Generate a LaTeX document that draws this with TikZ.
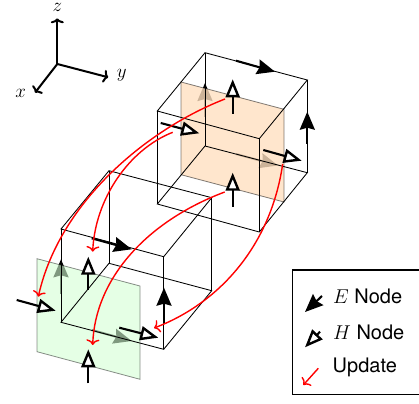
\documentclass[tikz,border=0pt]{standalone}
\usepackage{fix-cm}
\usepackage{fontspec}
\setmainfont{TeX Gyre Heros}
\usetikzlibrary{arrows.meta}
\tikzset{
  cubeline/.style={black,line width=0.85pt},
  enode/.style={black,line width=2.1pt,-{Stealth[length=18pt,width=15pt,inset=2pt]}},
  hnode/.style={black,line width=2.1pt,-{Stealth[open,fill=white,length=18pt,width=14pt,inset=0pt,line width=2.4pt]}},
  update/.style={red,line width=1.4pt,-{To[length=5.5pt,width=13pt]}},
  axisline/.style={black,line width=2pt,-{To[length=5pt,width=13pt]}},
  lbl/.style={font=\fontsize{20}{22}\selectfont,inner sep=0pt},
  axlbl/.style={font=\fontsize{19}{21}\selectfont,inner sep=0pt},
  orangeplane/.style={fill={rgb,255:red,255;green,224;blue,192},fill opacity=.8,draw=black,draw opacity=.5,line width=.8pt},
  greenplane/.style={fill={rgb,255:red,212;green,255;blue,212},fill opacity=.6,draw=black,draw opacity=.45,line width=.8pt}
}
\begin{document}
\begin{tikzpicture}[x=1pt,y=-1pt]
\useasboundingbox (0,0) rectangle (419,403);
% axes
\coordinate (O) at (57.3,64);
\coordinate (Z) at (57.3,18.3);
\coordinate (Y) at (108.3,77.3);
\coordinate (X) at (35,92.7);
\draw[axisline] (O) -- (Z);
\draw[axisline] (O) -- (Y);
\draw[axisline] (O) -- (X);
\node[axlbl] (zl) at (57.3,7) {$z$};
\node[axlbl] (yl) at (121.7,75.5) {$y$};
\node[axlbl] (xl) at (20.7,93.3) {$x$};
% top cube
\coordinate (a1) at (205,52.7);   \coordinate (b1) at (307.3,80);
\coordinate (c1) at (259.3,138.7);\coordinate (d1) at (157.3,111);
\coordinate (e1) at (205,146);    \coordinate (f1) at (307.3,172.7);
\coordinate (g1) at (259.3,232);  \coordinate (h1) at (157.3,204);
% bottom cube
\coordinate (a2) at (109,170.7);  \coordinate (b2) at (211.7,197.7);
\coordinate (c2) at (163.7,256.7);\coordinate (d2) at (61,229);
\coordinate (e2) at (109,263.3);  \coordinate (f2) at (211.7,290.7);
\coordinate (g2) at (163.7,349.3);\coordinate (h2) at (61,322.3);
% E arrows behind the planes
\coordinate (ea1) at (205,116.7); \coordinate (eb1) at (205,83);
\coordinate (ec1) at (236,154);   \coordinate (ed1) at (278,165.5);
\coordinate (ea2) at (61,294.3);  \coordinate (eb2) at (61,259.3);
\coordinate (ec2) at (91.7,330);  \coordinate (ed2) at (131.7,341);
\draw[enode] (ea1) -- (eb1);
\draw[enode] (ec1) -- (ed1);
\draw[enode] (ea2) -- (eb2);
\draw[enode] (ec2) -- (ed2);
% planes
\draw[orangeplane] (181,82) -- (284,109.3) -- (284,202) -- (181,174.7) -- cycle;
\draw[greenplane] (37,258.7) -- (140,286) -- (140,379.3) -- (37,351.7) -- cycle;
% cube edges
\foreach \c in {1,2}{
  \draw[cubeline] (a\c) -- (b\c) -- (c\c) -- (d\c) -- cycle;
  \draw[cubeline] (e\c) -- (f\c) -- (g\c) -- (h\c) -- cycle;
  \draw[cubeline] (a\c) -- (e\c);
  \draw[cubeline] (b\c) -- (f\c);
  \draw[cubeline] (c\c) -- (g\c);
  \draw[cubeline] (d\c) -- (h\c);
}
% remaining E arrows
\draw[enode] (236,60.7) -- (275,71.7);
\draw[enode] (307.3,144) -- (307.3,111.7);
\draw[enode] (91.7,238.3) -- (131.7,249.3);
\draw[enode] (164,323.3) -- (164,287.7);
% H arrows
\draw[hnode] (232.7,114) -- (232.7,79.3);
\draw[hnode] (232.7,206.7) -- (232.7,172.7);
\draw[hnode] (160.7,123) -- (199.3,133.3);
\draw[hnode] (263.3,150) -- (301.7,160.7);
\draw[hnode] (88.3,290) -- (88.3,256.7);
\draw[hnode] (88.3,383.3) -- (88.3,349.3);
\draw[hnode] (16.7,300) -- (55.7,310.7);
\draw[hnode] (119.3,327.7) -- (158.3,337.7);
% updates
\coordinate (u1s) at (225,99);      \coordinate (u1e) at (38.3,296.7);
\coordinate (u2s) at (172.7,132.3); \coordinate (u2e) at (92.7,251.7);
\coordinate (u3s) at (224.7,192);   \coordinate (u3e) at (92.7,345);
\coordinate (u4s) at (282.7,164);   \coordinate (u4e) at (154,328);
\draw[update] (u1s) .. controls (150,128) and (60,200) .. (u1e);
\draw[update] (u2s) .. controls (128,150) and (95,200) .. (u2e);
\draw[update] (u3s) .. controls (145,222) and (95,280) .. (u3e);
\draw[update] (u4s) .. controls (270,250) and (215,305) .. (u4e);
% legend
\draw[black,line width=1.3pt] (292.7,270) rectangle (420,394.3);
\coordinate (lea) at (322,296);   \coordinate (leb) at (305,312);
\coordinate (lha) at (320,331.7); \coordinate (lhb) at (305,347.3);
\coordinate (lua) at (318.3,368.3); \coordinate (lub) at (303.3,385);
\draw[enode] (lea) -- (leb);
\draw[hnode] (lha) -- (lhb);
\draw[update] (lua) -- (lub);
\node[lbl,anchor=west] (le) at (333,296) {$E$ Node};
\node[lbl,anchor=west] (lh) at (333,332) {$H$ Node};
\node[lbl,anchor=west] (lu) at (332.5,367) {Update};
\end{tikzpicture}
\end{document}
